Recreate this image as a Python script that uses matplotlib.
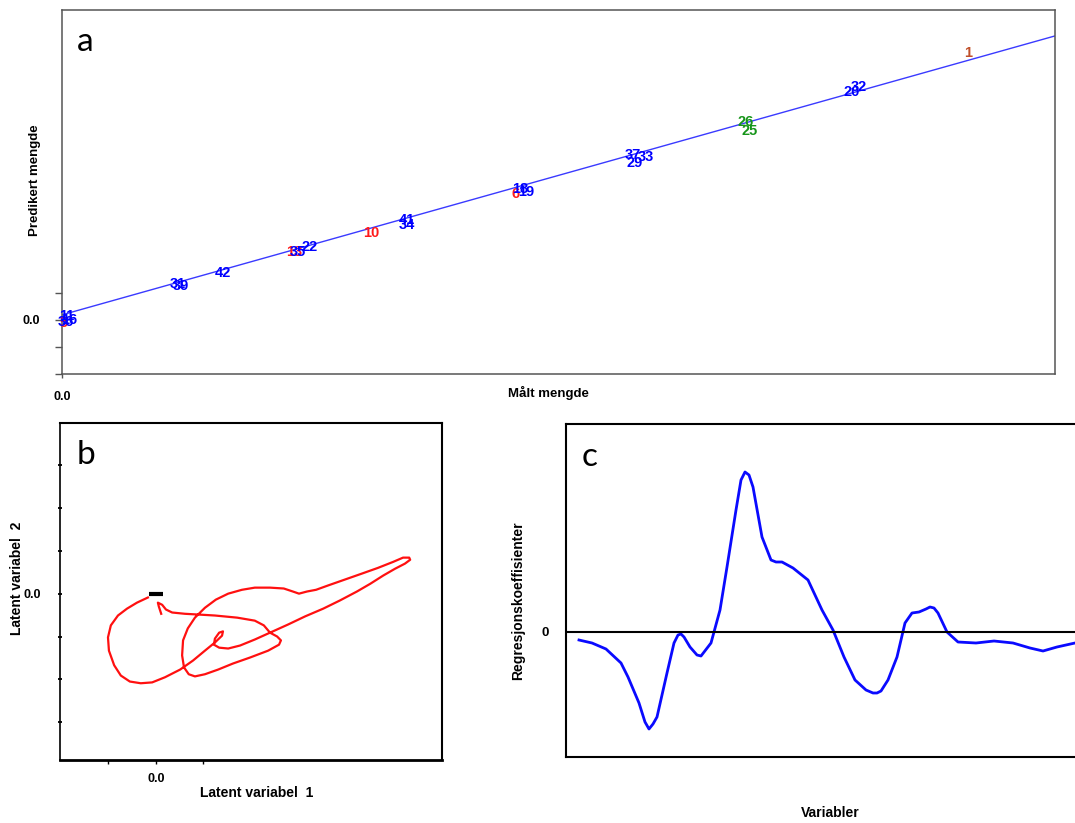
import numpy as np
import matplotlib
matplotlib.use('Agg')
import matplotlib.pyplot as plt

plt.rcParams['font.family'] = ['Liberation Sans', 'DejaVu Sans']

# ---- a: predikert mot målt mengde ----
prov_lab = ['5', '13', '10', '6',
            '11', '16', '36', '31', '39', '42', '35', '22', '41', '34',
            '18', '19', '37', '33', '29', '26', '25', '20', '32', '1']
prov_x = [0.02, 2.34, 3.11, 4.57,
          0.05, 0.07, 0.04, 1.17, 1.20, 1.62, 2.37, 2.49, 3.47, 3.47,
          4.61, 4.67, 5.75, 5.88, 5.77, 6.88, 6.92, 7.95, 8.02, 9.13]
prov_y = [-0.11, 2.52, 3.22, 4.67,
          0.15, 0.00, -0.07, 1.33, 1.26, 1.74, 2.52, 2.70, 3.70, 3.52,
          4.85, 4.74, 6.11, 6.04, 5.81, 7.33, 7.00, 8.44, 8.63, 9.89]
prov_grp = ['r', 'r', 'r', 'r',
            'b', 'b', 'b', 'b', 'b', 'b', 'b', 'b', 'b', 'b',
            'b', 'b', 'b', 'b', 'b', 'g', 'g', 'b', 'b', 'o']
farger = {'b': '#0000ff', 'r': '#ff1a1a', 'g': '#17951a', 'o': '#c0502a'}
helning, konstant = 1.033, 0.19

# ---- b: latente variabler ----
lv1 = [0.11, 0.06, 0.04, 0.13, 0.21, 0.34, 0.61, 0.93, 1.24, 1.71, 2.08, 2.27,
       2.40, 2.55, 2.63, 2.59, 2.36, 1.98, 1.62, 1.31, 1.03, 0.82, 0.69, 0.59,
       0.55, 0.57, 0.67, 0.82, 1.03, 1.26, 1.52, 1.81, 2.08, 2.40, 2.69, 2.88,
       3.01, 3.18, 3.37, 3.62, 3.98, 4.34, 4.67, 4.99, 5.20, 5.33, 5.35, 5.24,
       5.03, 4.78, 4.51, 4.23, 3.87, 3.52, 3.14, 2.78, 2.40, 2.08, 1.77, 1.52,
       1.33, 1.22, 1.24, 1.33, 1.41, 1.39, 1.24, 1.03, 0.78, 0.51, 0.19, -0.08,
       -0.32, -0.55, -0.74, -0.88, -0.99, -1.01, -0.95, -0.80, -0.61, -0.40, -0.17]
lv2 = [-0.47, -0.30, -0.21, -0.26, -0.37, -0.44, -0.47, -0.49, -0.51, -0.56, -0.63, -0.74,
       -0.91, -1.00, -1.09, -1.19, -1.33, -1.49, -1.63, -1.77, -1.88, -1.93, -1.88, -1.72,
       -1.44, -1.09, -0.81, -0.56, -0.33, -0.14, 0.00, 0.09, 0.14, 0.14, 0.12, 0.05,
       0.00, 0.05, 0.09, 0.19, 0.33, 0.47, 0.60, 0.74, 0.84, 0.84, 0.79, 0.70,
       0.58, 0.42, 0.23, 0.05, -0.16, -0.35, -0.53, -0.72, -0.91, -1.07, -1.21, -1.28,
       -1.26, -1.19, -1.05, -0.91, -0.88, -0.98, -1.14, -1.33, -1.56, -1.77, -1.95, -2.07,
       -2.09, -2.05, -1.91, -1.67, -1.33, -1.02, -0.74, -0.51, -0.35, -0.21, -0.09]

# ---- c: regresjonskoeffisienter ----
var_nr = [13, 26, 40, 55, 62, 73, 79, 83, 87, 91, 101, 108, 112, 115, 118, 124,
          131, 135, 145, 154, 161, 170, 175, 179, 183, 187, 196, 205, 210, 216,
          227, 242, 256, 267, 278, 289, 300, 307, 311, 315, 322, 331, 339, 346,
          353, 360, 364, 368, 372, 381, 392, 410, 428, 447, 464, 477, 491, 509]
koef = [-0.08, -0.11, -0.17, -0.31, -0.45, -0.71, -0.90, -0.97, -0.92, -0.85,
        -0.41, -0.11, -0.03, -0.02, -0.05, -0.15, -0.23, -0.24, -0.11, 0.22,
        0.65, 1.22, 1.52, 1.60, 1.57, 1.45, 0.95, 0.72, 0.70, 0.70, 0.64, 0.52,
        0.22, 0.02, -0.25, -0.48, -0.58, -0.61, -0.61, -0.59, -0.48, -0.25,
        0.09, 0.19, 0.20, 0.23, 0.25, 0.24, 0.19, 0.00, -0.10, -0.11, -0.09,
        -0.11, -0.16, -0.19, -0.15, -0.11]

W, H = 1075, 823
fig = plt.figure(figsize=(W / 100, H / 100), dpi=100)

def rect(x0, y0, x1, y1):
    return [x0 / W, 1 - y1 / H, (x1 - x0) / W, (y1 - y0) / H]

# panel a
axa = fig.add_axes(rect(62, 10, 1055, 374))
axa.set_xlim(0, 10)
axa.set_ylim(-2, 11.48)
xl = np.array(axa.get_xlim())
axa.plot(xl, konstant + helning * xl, color='#3a3aff', lw=1)
for lab, x, y, g in zip(prov_lab, prov_x, prov_y, prov_grp):
    axa.text(x, y, lab, color=farger[g], fontsize=10.5, fontweight='bold',
             ha='center', va='center', clip_on=False)
for s in axa.spines.values():
    s.set_color('#555555')
    s.set_linewidth(1.1)
axa.set_yticks([-2, -1, 0, 1])
axa.set_yticklabels(['', '', '0.0', ''])
axa.set_xticks([0])
axa.set_xticklabels(['0.0'])
axa.tick_params(axis='y', length=5, width=1, color='#555555', pad=11, labelsize=9)
axa.tick_params(axis='x', length=3, width=1, color='#555555', pad=9, labelsize=9)
for t in axa.get_xticklabels() + axa.get_yticklabels():
    t.set_fontweight('bold')
fig.text(85 / W, 1 - 42 / H, 'a', fontsize=24, family='Lato', ha='center', va='center')
fig.text(35 / W, 1 - 180 / H, 'Predikert mengde', rotation=90, fontsize=9.5,
         fontweight='bold', ha='center', va='center')
fig.text(548 / W, 1 - 393 / H, 'Målt mengde', fontsize=9.5, fontweight='bold',
         ha='center', va='center')

# panel b
axb = fig.add_axes(rect(60, 423, 442, 760))
axb.plot(lv1, lv2, color='#ff1010', lw=1.6)
axb.plot([0], [0], marker='_', color='black', markersize=10, mew=3)
axb.set_xlim(-2.02, 6.02)
axb.set_ylim(-3.88, 3.98)
axb.set_xticks([-1, 0, 1])
axb.set_xticklabels(['', '0.0', ''])
axb.set_yticks([-3, -2, -1, 0, 1, 2, 3])
axb.set_yticklabels(['', '', '', '0.0', '', '', ''])
axb.spines['left'].set_linestyle((0, (1, 1)))
axb.spines['left'].set_linewidth(1.2)
for k in ['top', 'right']:
    axb.spines[k].set_linewidth(1.5)
axb.spines['bottom'].set_linewidth(2)
axb.tick_params(axis='y', length=3, width=1.3, direction='inout', pad=12, labelsize=9)
axb.tick_params(axis='x', length=3, width=1, pad=6, labelsize=9)
for t in axb.get_xticklabels() + axb.get_yticklabels():
    t.set_fontweight('bold')
fig.text(86 / W, 1 - 455 / H, 'b', fontsize=24, family='Lato', ha='center', va='center')
fig.text(17 / W, 1 - 578 / H, 'Latent variabel  2', rotation=90, fontsize=10,
         fontweight='bold', ha='center', va='center')
fig.text(257 / W, 1 - 793 / H, 'Latent variabel  1', fontsize=10,
         fontweight='bold', ha='center', va='center')

# panel c
axc = fig.add_axes(rect(566, 424, 1075, 757))
axc.plot(var_nr, koef, color='#0a0aff', lw=2)
axc.axhline(0, color='black', lw=1.5)
axc.set_xlim(0, 509)
axc.set_ylim(-1.25, 2.08)
axc.set_xticks([])
axc.set_yticks([0])
axc.set_yticklabels(['0'])
axc.tick_params(axis='y', length=0, pad=12, labelsize=9.5)
for t in axc.get_yticklabels():
    t.set_fontweight('bold')
axc.spines['right'].set_visible(False)
for k in ['top', 'left', 'bottom']:
    axc.spines[k].set_linewidth(1.5)
fig.text(590 / W, 1 - 457 / H, 'c', fontsize=24, family='Lato', ha='center', va='center')
fig.text(518 / W, 1 - 601 / H, 'Regresjonskoeffisienter', rotation=90, fontsize=10,
         fontweight='bold', ha='center', va='center')
fig.text(830 / W, 1 - 813 / H, 'Variabler', fontsize=10, fontweight='bold',
         ha='center', va='center')

fig.savefig('out.png', dpi=100)
